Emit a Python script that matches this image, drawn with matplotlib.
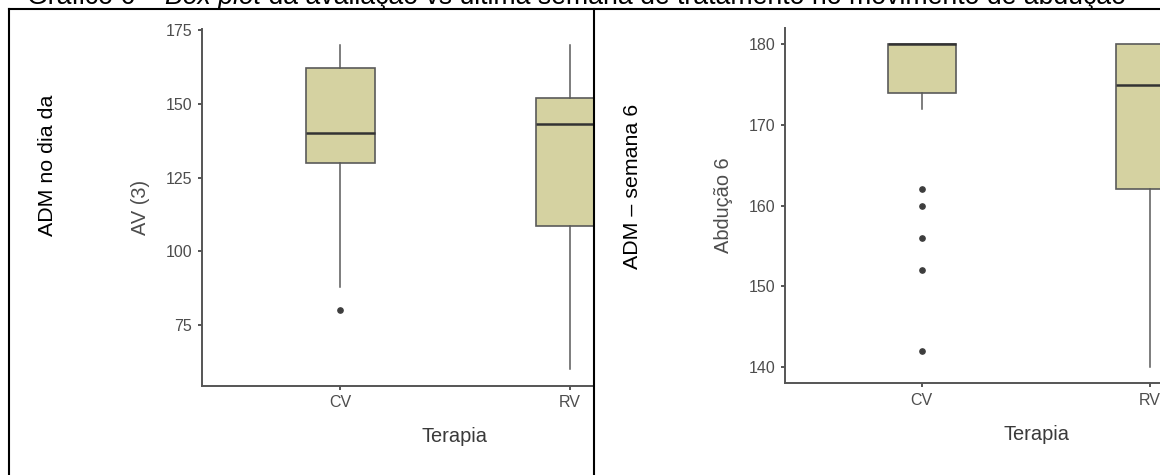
import matplotlib
matplotlib.use("Agg")
import matplotlib.pyplot as plt
from matplotlib.lines import Line2D
from matplotlib.patches import Rectangle

plt.rcParams['font.family'] = ['Liberation Sans', 'DejaVu Sans']

# data
terapias = ["CV", "RV"]

# painel esquerdo: AV (3)
av_q1 = [130, 108.75]
av_med = [140, 143]
av_q3 = [162, 152]
av_whislo = [88, 60]
av_whishi = [170, 170]
av_fliers = [[80], []]
av_ticks = [75, 100, 125, 150, 175]

# painel direito: Abducao 6
ab_q1 = [174, 162]
ab_med = [180, 175]
ab_q3 = [180, 180]
ab_whislo = [172, 140]
ab_whishi = [180, 180]
ab_fliers = [[162, 160, 156, 152, 142], []]
ab_ticks = [140, 150, 160, 170, 180]

W, H = 1160, 475
FILL = "#d5d2a1"
EDGE = "#5a5a5a"
AXC = "#555555"


def fx(px):
    return px / W


def fy(py):
    return 1 - py / H


def stats(q1, med, q3, lo, hi, fl):
    out = []
    for i in range(len(q1)):
        out.append(dict(q1=q1[i], med=med[i], q3=q3[i], whislo=lo[i],
                        whishi=hi[i], fliers=fl[i]))
    return out


def painel(ax, st, ticks, ylim, ylabel, lab_xy, xlab_xy):
    ax.bxp(st, positions=[1, 2], widths=0.3, patch_artist=True,
           showcaps=False,
           boxprops=dict(facecolor=FILL, edgecolor=EDGE, linewidth=1.2),
           medianprops=dict(color="#333333", linewidth=1.8),
           whiskerprops=dict(color=EDGE, linewidth=1.1),
           flierprops=dict(marker="o", markersize=3.8, markerfacecolor="#3d3d3d",
                           markeredgecolor="#3d3d3d"))
    ax.set_xlim(0.4, 2.6)
    ax.set_ylim(*ylim)
    ax.set_yticks(ticks)
    ax.set_xticks([1, 2])
    ax.set_xticklabels(terapias)
    for s in ["top", "right"]:
        ax.spines[s].set_visible(False)
    for s in ["left", "bottom"]:
        ax.spines[s].set_color(AXC)
        ax.spines[s].set_linewidth(1.4)
    ax.tick_params(length=3, width=1.4, color=AXC, labelcolor="#4d4d4d",
                   labelsize=11.5, pad=4)
    ax.set_ylabel(ylabel, fontsize=14.4, color="#4d4d4d", ha="center", va="center")
    ax.yaxis.set_label_coords(fx(lab_xy[0]), fy(lab_xy[1]), transform=fig.transFigure)
    ax.yaxis.label.set_rotation_mode("default")
    ax.set_xlabel("Terapia", fontsize=14.4, color="#3a3a3a", ha="center", va="center")
    ax.xaxis.set_label_coords(fx(xlab_xy[0]), fy(xlab_xy[1]), transform=fig.transFigure)


fig = plt.figure(figsize=(W / 100, H / 100), dpi=100, facecolor="white")

ax1 = fig.add_axes([fx(202), fy(385.7), (708 - 202) / W, (385.7 - 28.5) / H])
ax1.set_zorder(0)
painel(ax1, stats(av_q1, av_med, av_q3, av_whislo, av_whishi, av_fliers),
       av_ticks, (54.5, 175.5), "AV (3)", (141, 207), (455, 437))

# o painel esquerdo fica cortado pela celula da tabela
fig.add_artist(Rectangle((fx(595), 0), 1 - fx(595), fy(10), facecolor="white",
                         edgecolor="none", zorder=1, transform=fig.transFigure))

ax2 = fig.add_axes([fx(785), fy(383), (1286.6 - 785) / W, (383 - 28.2) / H])
ax2.set_zorder(2)
painel(ax2, stats(ab_q1, ab_med, ab_q3, ab_whislo, ab_whishi, ab_fliers),
       ab_ticks, (138, 182), "Abdução 6", (723, 205), (1036, 434))

# bordas da tabela
for xs, ys in [([9, 9], [9, H]), ([594, 594], [9, H]), ([9, W], [9, 9])]:
    fig.add_artist(Line2D([fx(v) for v in xs], [fy(v) for v in ys], color="black",
                          linewidth=1.5, zorder=3, transform=fig.transFigure))

fig.text(fx(47.5), fy(165), "ADM no dia da", rotation=90, ha="center", va="center",
         fontsize=15.4, color="black", zorder=3)
fig.text(fx(632), fy(186), "ADM – semana 6", rotation=90, ha="center", va="center",
         fontsize=15.4, color="black", zorder=3)

# titulo (cortado no topo na imagem original), com "Box plot" em italico
r = fig.canvas.get_renderer()
x = fx(27)
for txt, st in [("Gráfico 6 – ", "normal"), ("Box plot", "italic"),
                (" da avaliação vs última semana de tratamento no movimento de abdução", "normal")]:
    t = fig.text(x, fy(3.5), txt, fontsize=19.2, style=st, ha="left", va="baseline",
                 color="black", zorder=3)
    bb = t.get_window_extent(renderer=r)
    x = bb.x1 / W

fig.savefig("out.png", dpi=100)
